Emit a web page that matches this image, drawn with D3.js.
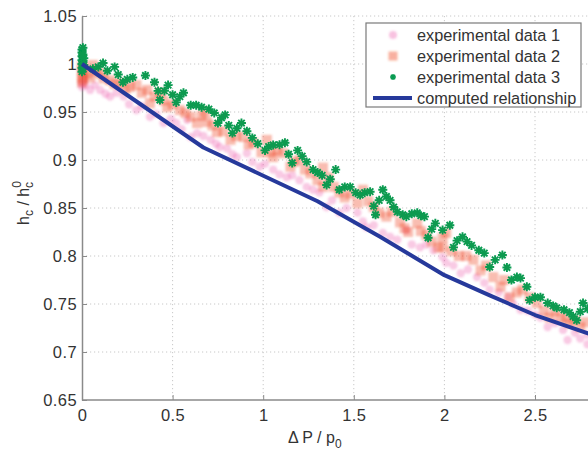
<!DOCTYPE html>
<html><head><meta charset="utf-8">
<script src="https://cdn.jsdelivr.net/npm/d3@7"></script>
<style>
html,body{margin:0;padding:0;background:#fff;}
svg text{font-family:"Liberation Sans",Arial,Helvetica,sans-serif;fill:#333;}
</style></head>
<body>
<svg id="chart" width="588" height="450"></svg>
<script>
// ---- data ----
const xTicks = [0, 0.5, 1, 1.5, 2, 2.5];
const yTicks = [0.65, 0.7, 0.75, 0.8, 0.85, 0.9, 0.95, 1, 1.05];
const seriesNames = ["experimental data 1", "experimental data 2", "experimental data 3", "computed relationship"];

const pinkX = [0,0,0.01,0.02,0.045,0.07,0.10,0.13,0.155,0.19,0.23,0.26,0.30,0.33,0.375,0.41,0.45,0.49,0.52,0.55,0.58,0.60,0.635,0.67,0.71,0.74,0.76,0.80,0.83,0.855,0.91,0.94,0.98,1.01,1.055,1.09,1.13,1.16,1.20,1.24,1.275,1.31,1.35,1.38,1.42,1.46,1.52,1.55,1.57,1.61,1.66,1.70,1.74,1.79,1.82,1.865,1.90,1.94,1.99,2.01,2.05,2.09,2.13,2.18,2.22,2.25,2.30,2.35,2.38,2.42,2.46,2.50,2.53,2.57,2.61,2.655,2.68,2.72,2.75,2.79,2.79];
const pinkY = [0.98,0.976,0.985,0.978,0.973,0.978,0.973,0.969,0.966,0.97,0.966,0.958,0.952,0.956,0.945,0.948,0.9385,0.943,0.9385,0.932,0.942,0.924,0.928,0.925,0.921,0.917,0.9135,0.912,0.906,0.903,0.907,0.898,0.893,0.896,0.890,0.885,0.882,0.884,0.879,0.872,0.869,0.866,0.851,0.858,0.845,0.85,0.845,0.836,0.830,0.832,0.824,0.82,0.817,0.827,0.812,0.809,0.812,0.806,0.799,0.793,0.79,0.782,0.786,0.778,0.772,0.765,0.762,0.757,0.75,0.744,0.743,0.739,0.736,0.726,0.73,0.723,0.7125,0.72,0.714,0.718,0.708];

const orangeX = [0,0,0,0,0.005,0.005,0.03,0.045,0.06,0.08,0.10,0.12,0.155,0.18,0.21,0.24,0.265,0.30,0.33,0.36,0.375,0.40,0.43,0.45,0.47,0.50,0.54,0.57,0.60,0.635,0.66,0.68,0.69,0.72,0.745,0.78,0.82,0.85,0.89,0.92,0.945,0.99,1.02,1.04,1.055,1.08,1.11,1.15,1.17,1.20,1.23,1.26,1.30,1.33,1.33,1.36,1.39,1.42,1.45,1.48,1.52,1.55,1.58,1.61,1.64,1.68,1.71,1.755,1.78,1.80,1.85,1.87,1.90,1.93,1.965,1.99,1.99,2.01,2.04,2.08,2.12,2.16,2.20,2.23,2.27,2.31,2.33,2.36,2.40,2.43,2.47,2.51,2.55,2.58,2.61,2.64,2.67,2.69,2.72,2.75,2.78];
const orangeY = [0.998,0.992,0.986,0.981,0.995,0.984,0.99,0.986,0.999,0.993,0.99,0.985,0.983,0.979,0.98,0.974,0.976,0.978,0.97,0.973,0.959,0.966,0.970,0.962,0.955,0.958,0.952,0.949,0.945,0.9385,0.946,0.95,0.9396,0.936,0.929,0.93,0.921,0.925,0.924,0.916,0.918,0.908,0.921,0.908,0.903,0.91,0.907,0.893,0.898,0.90,0.89,0.886,0.879,0.872,0.892,0.882,0.872,0.866,0.861,0.865,0.855,0.869,0.857,0.851,0.845,0.841,0.846,0.835,0.829,0.825,0.834,0.826,0.822,0.815,0.809,0.819,0.809,0.824,0.805,0.80,0.80,0.796,0.785,0.79,0.778,0.768,0.775,0.757,0.762,0.765,0.757,0.751,0.743,0.736,0.742,0.736,0.735,0.73,0.733,0.726,0.731];

const greenX = [0,0,0,0,0,0,0,0.005,0.005,0.005,0.005,0.01,0.01,0.06,0.09,0.116,0.14,0.18,0.2,0.226,0.25,0.28,0.35,0.40,0.42,0.43,0.455,0.475,0.50,0.52,0.54,0.56,0.60,0.63,0.66,0.70,0.73,0.75,0.77,0.79,0.81,0.83,0.855,0.88,0.91,0.94,0.97,1.01,1.03,1.055,1.09,1.12,1.14,1.16,1.19,1.215,1.24,1.275,1.30,1.325,1.35,1.37,1.40,1.42,1.45,1.48,1.51,1.535,1.56,1.59,1.61,1.62,1.64,1.66,1.68,1.70,1.72,1.74,1.77,1.79,1.82,1.85,1.87,1.89,1.91,1.93,1.95,1.99,2.03,2.05,2.07,2.10,2.125,2.15,2.19,2.22,2.25,2.28,2.32,2.345,2.37,2.40,2.42,2.455,2.47,2.50,2.53,2.57,2.60,2.62,2.66,2.69,2.71,2.73,2.75,2.765,2.79];
const greenY = [1.015,1.012,1.008,1.004,1.0,0.996,0.992,1.017,1.01,1.003,0.995,1.006,0.999,0.995,0.997,1.001,0.993,0.997,0.989,0.981,0.984,0.986,0.988,0.981,0.972,0.9625,0.972,0.978,0.968,0.960,0.966,0.970,0.957,0.957,0.955,0.953,0.949,0.9385,0.944,0.947,0.936,0.928,0.933,0.9385,0.93,0.923,0.917,0.910,0.914,0.9156,0.916,0.918,0.906,0.897,0.910,0.904,0.898,0.890,0.887,0.884,0.874,0.880,0.890,0.869,0.872,0.872,0.866,0.8635,0.866,0.867,0.852,0.843,0.858,0.869,0.862,0.858,0.851,0.846,0.843,0.841,0.844,0.845,0.842,0.841,0.819,0.828,0.834,0.827,0.832,0.809,0.816,0.820,0.815,0.811,0.806,0.803,0.7885,0.796,0.801,0.788,0.775,0.778,0.777,0.768,0.754,0.757,0.757,0.751,0.748,0.746,0.744,0.741,0.737,0.733,0.742,0.751,0.745];

const lineX = [0, 0.67, 1.3, 1.645, 2.0, 2.25, 2.5, 2.8];
const lineY = [1.0, 0.913, 0.857, 0.82, 0.78, 0.759, 0.7385, 0.719];

// ---- chart ----
const svg = d3.select("#chart");
const W = 588, H = 450;
const x = d3.scaleLinear().domain([0, 3]).range([82, 82 + 6 * 90.6]);
const y = d3.scaleLinear().domain([0.65, 1.05]).range([400, 16]);

const defs = svg.append("defs");
function blur(id, s) {
  defs.append("filter").attr("id", id).attr("x", "-50%").attr("y", "-50%").attr("width", "200%").attr("height", "200%")
    .append("feGaussianBlur").attr("stdDeviation", s);
}
blur("blurP", 1.3); blur("blurO", 1.1); blur("blurG", 0.45);

// grid
const grid = svg.append("g");
grid.selectAll(".gx").data(xTicks.filter(d => d > 0)).join("line")
  .attr("x1", d => x(d)).attr("x2", d => x(d)).attr("y1", y(1.05)).attr("y2", y(0.65))
  .attr("stroke", "#c8c8c8").attr("stroke-width", 1).attr("stroke-dasharray", "1.2,2.8");
grid.selectAll(".gy").data(yTicks.filter(d => d > 0.65)).join("line")
  .attr("x1", x(0)).attr("x2", W).attr("y1", d => y(d)).attr("y2", d => y(d))
  .attr("stroke", "#c8c8c8").attr("stroke-width", 1).attr("stroke-dasharray", "1.2,2.8");

// axes
const xAxis = d3.axisBottom(x).tickValues(xTicks).tickFormat(d3.format("~g")).tickSizeInner(-5).tickSizeOuter(0).tickPadding(9);
const yAxis = d3.axisLeft(y).tickValues(yTicks).tickFormat(d3.format("~g")).tickSizeInner(-5).tickSizeOuter(0).tickPadding(5);
const gx = svg.append("g").attr("transform", `translate(0,${y(0.65)})`).call(xAxis);
const gy = svg.append("g").attr("transform", `translate(${x(0)},0)`).call(yAxis);
gx.select(".domain").attr("d", `M${x(0)},0H${W}`);
[gx, gy].forEach(g => {
  g.select(".domain").attr("stroke", "#8a8a8a").attr("stroke-width", 1.5);
  g.selectAll(".tick line").attr("stroke", "#8a8a8a");
  g.selectAll(".tick text").attr("font-size", 16.5).attr("fill", "#333").attr("font-family", "Liberation Sans, Arial, sans-serif").attr("letter-spacing", "0.4px");
});

// markers
const starPath = (s) => {
  const a = s / 2, b = a * 0.72;
  return `M${-a},0L${a},0M0,${-a}L0,${a}M${-b},${-b}L${b},${b}M${-b},${b}L${b},${-b}`;
};

const plot = svg.append("g");
plot.append("g").attr("filter", "url(#blurP)").selectAll("circle").data(pinkX.map((d, i) => [d, pinkY[i]])).join("circle")
  .attr("cx", d => x(d[0])).attr("cy", d => y(d[1])).attr("r", 4.2)
  .attr("fill", "#ec4fa6").attr("fill-opacity", 0.3);
plot.append("g").attr("filter", "url(#blurO)").selectAll("rect").data(orangeX.map((d, i) => [d, orangeY[i]])).join("rect")
  .attr("x", d => x(d[0]) - 5).attr("y", d => y(d[1]) - 5).attr("width", 10).attr("height", 10)
  .attr("fill", "#f0502f").attr("fill-opacity", 0.38);
plot.append("g").attr("filter", "url(#blurG)").selectAll("path").data(greenX.map((d, i) => [d, greenY[i]])).join("path")
  .attr("transform", d => `translate(${x(d[0])},${y(d[1])})`).attr("d", starPath(9))
  .attr("stroke", "#089a50").attr("stroke-width", 1.9).attr("fill", "none");

const line = d3.line().x(d => x(d[0])).y(d => y(d[1]));
plot.append("path").datum(lineX.map((d, i) => [d, lineY[i]])).attr("d", line)
  .attr("fill", "none").attr("stroke", "#26399b").attr("stroke-width", 4).attr("stroke-linejoin", "round");

// axis labels
const xl = svg.append("text").attr("x", 288).attr("y", 443).attr("font-size", 16);
xl.append("tspan").text("\u0394 P / p");
xl.append("tspan").attr("font-size", 12).attr("dy", 5).text("0");

const yl = svg.append("text").attr("transform", "translate(29,203) rotate(-90)").attr("text-anchor", "middle").attr("font-size", 16);
yl.append("tspan").text("h");
yl.append("tspan").attr("font-size", 12).attr("dy", 4).text("c");
yl.append("tspan").attr("dy", -4).text(" / h");
yl.append("tspan").attr("font-size", 12).attr("dy", -8).attr("dx", 0).text("0");
yl.append("tspan").attr("font-size", 12).attr("dy", 12).attr("dx", -7).text("c");

// legend
const lg = svg.append("g");
lg.append("rect").attr("x", 366).attr("y", 23).attr("width", 215).attr("height", 84)
  .attr("fill", "#fff").attr("stroke", "#7a7a7a").attr("stroke-width", 1.2);
const rowY = [35, 56, 77, 98];
lg.append("circle").attr("cx", 393).attr("cy", rowY[0]).attr("r", 4).attr("fill", "#ec4fa6").attr("fill-opacity", 0.35).attr("filter", "url(#blurP)");
lg.append("rect").attr("x", 388.5).attr("y", rowY[1] - 4.5).attr("width", 9).attr("height", 9).attr("fill", "#f0502f").attr("fill-opacity", 0.45).attr("filter", "url(#blurO)");
lg.append("path").attr("transform", `translate(393,${rowY[2]})`).attr("d", starPath(6)).attr("stroke", "#089a50").attr("stroke-width", 1.5).attr("fill", "none");
lg.append("line").attr("x1", 373).attr("x2", 412).attr("y1", rowY[3]).attr("y2", rowY[3]).attr("stroke", "#26399b").attr("stroke-width", 4);
lg.selectAll(".lt").data(seriesNames).join("text")
  .attr("x", 417).attr("y", (d, i) => rowY[i] + 5.5).attr("font-size", 16.3).text(d => d);
</script>
</body></html>
